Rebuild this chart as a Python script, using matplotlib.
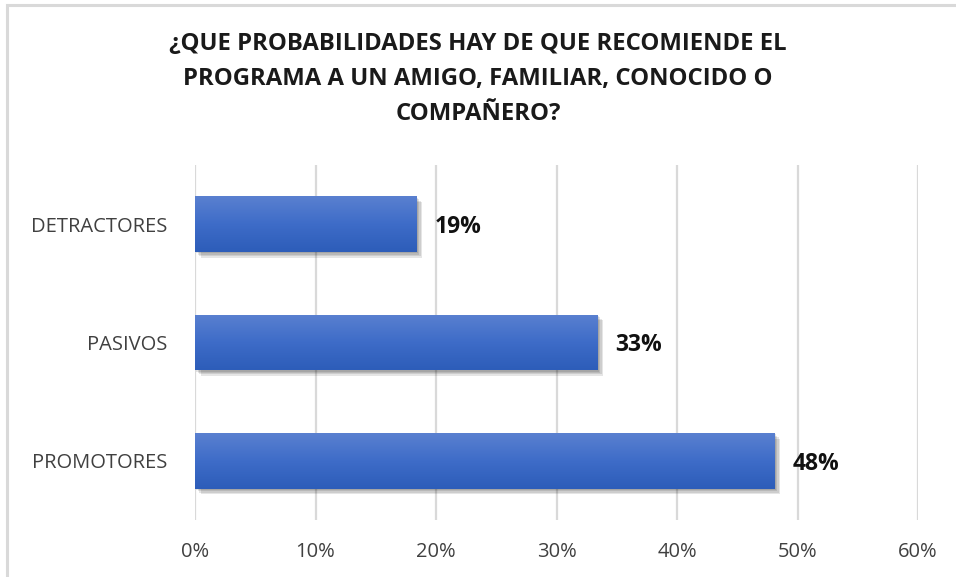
import matplotlib
matplotlib.use("Agg")
import matplotlib.pyplot as plt
import matplotlib.patheffects as pe
from matplotlib.patches import Rectangle
from matplotlib.ticker import FuncFormatter
from matplotlib.colors import LinearSegmentedColormap
import numpy as np

categories = ["PROMOTORES", "PASIVOS", "DETRACTORES"]
values = [0.481, 0.334, 0.184]
value_labels = ["48%", "33%", "19%"]
xticks = [0, 0.1, 0.2, 0.3, 0.4, 0.5, 0.6]
title = "¿QUE PROBABILIDADES HAY DE QUE RECOMIENDE EL\nPROGRAMA A UN AMIGO, FAMILIAR, CONOCIDO O\nCOMPAÑERO?"

FONT = "Open Sans"
W, H = 956, 577
fig = plt.figure(figsize=(W / 100, H / 100), dpi=100)
fig.patch.set_facecolor("white")

# chart border
fig.add_artist(Rectangle((7 / W, -0.05), 1.0, 1.05 - 5 / H, transform=fig.transFigure,
                         fill=False, edgecolor="#d9d9d9", linewidth=2.2))

ax = fig.add_axes([195 / W, 1 - 520 / H, (918 - 195) / W, (520 - 165) / H])
ax.set_facecolor("none")

y = np.arange(len(categories))
shadow = [pe.SimplePatchShadow(offset=(o, -o), shadow_rgbFace="#000000", alpha=0.10)
          for o in (1.0, 2.0, 3.0, 4.0)]
bars = ax.barh(y, values, height=0.47, color="#3f6fcc", zorder=3,
               path_effects=shadow + [pe.Normal()])

# vertical gradient fill for each bar (lighter at top)
grad = np.linspace(0, 1, 64).reshape(-1, 1)
cmap = LinearSegmentedColormap.from_list("g", ["#5a80d0", "#3e6cc8", "#2d5db9"])
for b in bars:
    x0, y0 = b.get_x(), b.get_y()
    w, h = b.get_width(), b.get_height()
    im = ax.imshow(grad, cmap=cmap, aspect="auto", extent=(x0, x0 + w, y0, y0 + h),
                   origin="upper", zorder=4, interpolation="bicubic")
    im.set_clip_path(b)

for b, lab in zip(bars, value_labels):
    ax.annotate(lab, (b.get_width(), b.get_y() + b.get_height() / 2),
                xytext=(13, -2), textcoords="offset points", va="center", ha="left",
                fontsize=16.5, fontweight="bold", family=FONT, color="#111111", zorder=5)

ax.set_xlim(0, 0.6)
ax.set_ylim(-0.5, len(categories) - 0.5)
ax.set_xticks(xticks)
ax.xaxis.set_major_formatter(FuncFormatter(lambda v, p: f"{v*100:.0f}%"))
ax.set_yticks(y)
ax.set_yticklabels(categories)
ax.grid(axis="x", color="#d9d9d9", linewidth=1.6, zorder=0)
ax.set_axisbelow(True)
for s in ax.spines.values():
    s.set_visible(False)
ax.tick_params(axis="x", length=0, pad=16, labelsize=14.5, labelcolor="#404040")
ax.tick_params(axis="y", length=0, pad=20, labelsize=14.5, labelcolor="#404040")
for t in ax.get_xticklabels() + ax.get_yticklabels():
    t.set_family(FONT)

fig.text(0.5, 1 - 79 / H, title, ha="center", va="center", fontsize=17.2,
         fontweight="bold", family=FONT, color="#1a1a1a", linespacing=1.6)

fig.savefig("out.png", dpi=100)
